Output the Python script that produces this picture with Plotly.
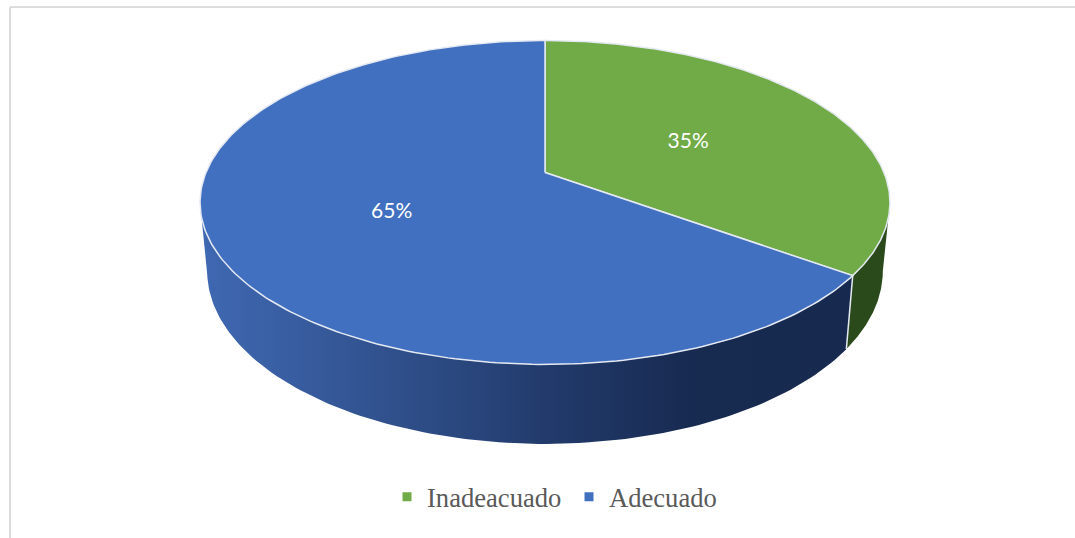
import numpy as np
import plotly.graph_objects as go

# Chart data
categories = ["Inadeacuado", "Adecuado"]
shares = [35, 65]
slice_colors = ["#70AB47", "#4270C0"]
labels = ["35%", "65%"]

W, H = 1075, 538

# Pie geometry in canvas pixels
HUB_X, HUB_Y = 545.0, 172.5
A, B, K = 339.0, 156.4, 0.185      # top face: half width, half height, perspective
BASE_Y, BASE_A, BASE_B = 239.0, 332.0, 167.0  # bottom rim
RIM = "#E4E9F2"

# The disc's outline is widest slightly below its hub, so the wall starts there
WALL_FROM = np.degrees(np.arccos(-K))
WALL_TO = 360 - WALL_FROM


def top_face(theta_deg, r=1.0):
    """Project a point of the tilted disc; theta runs clockwise from 12 o'clock."""
    t = np.radians(theta_deg)
    u, v = r * np.sin(t), -r * np.cos(t)
    w = 1 - K * v
    return HUB_X + A * u / w, HUB_Y + B * v / w


def bottom_rim(theta_deg):
    t = np.radians(theta_deg)
    u, v = np.sin(t), -np.cos(t)
    w = 1 - K * v
    return HUB_X + BASE_A * u / w, BASE_Y + BASE_B * v / w


total = sum(shares)
sweeps = [s / total * 360 for s in shares]
starts = [sum(sweeps[:i]) for i in range(len(sweeps))]

fig = go.Figure()

# Side wall: only the part facing the viewer is drawn
side_styles = [
    dict(fillcolor="#2B4A1C"),
    dict(fillgradient=dict(
        type="horizontal", start=205, stop=860,
        colorscale=[[0, "#3F68B2"], [0.3, "#2F4F8A"], [0.52, "#223B6C"],
                    [0.75, "#172A50"], [1, "#17294E"]])),
]
for start, sweep, style in zip(starts, sweeps, side_styles):
    lo, hi = max(start, WALL_FROM), min(start + sweep, WALL_TO)
    th = np.linspace(lo, hi, 120)
    tx, ty = top_face(th)
    bx, by = bottom_rim(th[::-1])
    fig.add_trace(go.Scatter(
        x=np.r_[tx, bx], y=np.r_[ty, by], mode="lines", fill="toself",
        line=dict(width=0, color="rgba(0,0,0,0)"), showlegend=False, hoverinfo="skip", **style))

# Light edge between the two wall segments
edge = starts[1]
ex0, ey0 = top_face(edge)
ex1, ey1 = bottom_rim(edge)
fig.add_trace(go.Scatter(x=[ex0, ex1], y=[ey0, ey1], mode="lines",
                         line=dict(color=RIM, width=1.5), showlegend=False, hoverinfo="skip"))

# Top face slices
for start, sweep, color in zip(starts, sweeps, slice_colors):
    th = np.linspace(start, start + sweep, 240)
    x, y = top_face(th)
    fig.add_trace(go.Scatter(
        x=np.r_[HUB_X, x, HUB_X], y=np.r_[HUB_Y, y, HUB_Y], mode="lines", fill="toself",
        fillcolor=color, line=dict(color=RIM, width=1.5), showlegend=False, hoverinfo="skip"))

# Percentage labels at each slice's mid angle
for start, sweep, text in zip(starts, sweeps, labels):
    lx, ly = top_face(start + sweep / 2, 0.49)
    fig.add_trace(go.Scatter(
        x=[lx + 1], y=[ly + 4], mode="text", text=[text], textposition="middle center",
        textfont=dict(family="Lato", size=21, color="white"), showlegend=False, hoverinfo="skip"))

# Legend entries
for name, color in zip(categories, slice_colors):
    fig.add_trace(go.Scatter(x=[None], y=[None], mode="markers", name=name,
                             marker=dict(symbol="square", size=9, color=color)))

fig.update_layout(
    width=W, height=H, margin=dict(l=0, r=0, t=0, b=0),
    paper_bgcolor="white", plot_bgcolor="white",
    xaxis=dict(range=[0, W], visible=False, fixedrange=True),
    yaxis=dict(range=[H, 0], visible=False, fixedrange=True),
    legend=dict(orientation="h", x=0.36, xanchor="left", y=0.0765, yanchor="middle",
                font=dict(family="Liberation Serif", size=26.6, color="#595959"),
                bgcolor="rgba(0,0,0,0)", itemwidth=30, entrywidth=137, entrywidthmode="pixels"),
    shapes=[
        dict(type="line", x0=10, x1=W, y0=7, y1=7, line=dict(color="#DCDCDC", width=2)),
        dict(type="line", x0=10, x1=10, y0=7, y1=H, line=dict(color="#DCDCDC", width=2)),
    ],
)

fig.write_html("out.html", config={"displayModeBar": False})
